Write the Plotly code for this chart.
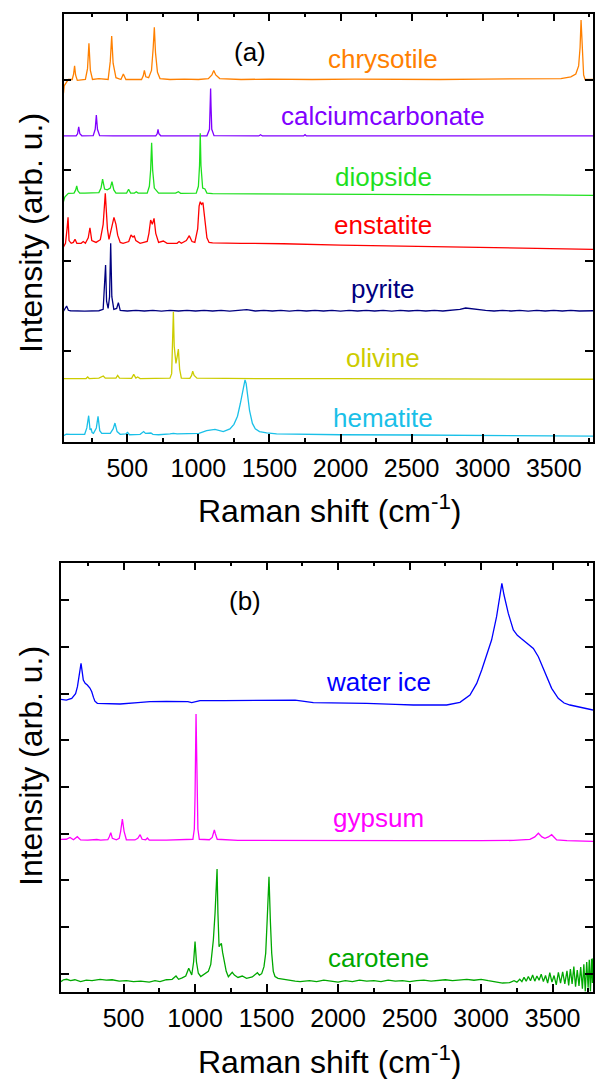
import plotly.graph_objects as go

FONT = "Liberation Sans, Arial, sans-serif"

# ---------------- panel (a) ----------------
chrysotile_x = [51, 56, 85, 112, 122, 129, 136, 148, 205, 220, 230, 240, 255, 300, 365, 380, 390, 400, 420,
                455, 472, 490, 600, 612, 620, 630, 650, 670, 682, 690, 698, 712, 730, 800, 900, 1000,
                1070, 1095, 1108, 1122, 1150, 1300, 1500, 1800, 2100, 2400, 2700, 3000, 3300, 3550,
                3620, 3655, 3675, 3685, 3692, 3700, 3710, 3720, 3776]
chrysotile_y = [3.85, 3.93, 4.0, 4.0, 4.06, 4.15, 4.05, 3.99, 4.0, 4.12, 4.40, 4.10, 4.0, 4.01, 4.0, 4.20, 4.48, 4.18, 4.02,
                4.0, 4.06, 4.0, 4.0, 4.04, 4.10, 4.03, 4.02, 4.10, 4.35, 4.577, 4.30, 4.08, 4.01, 4.0, 4.005, 4.0,
                4.01, 4.05, 4.10, 4.05, 4.01, 4.0, 4.005, 4.0, 4.005, 4.0, 4.0, 4.005, 4.005, 4.01,
                4.03, 4.06, 4.15, 4.35, 4.657, 4.35, 4.05, 4.0, 4.0]

calcite_x = [51, 140, 150, 158, 166, 180, 260, 274, 282, 290, 305, 400, 600, 700, 710, 716, 722, 735, 900,
             1060, 1078, 1083, 1086, 1089, 1094, 1110, 1300, 1425, 1437, 1450, 1740, 1750, 1760,
             2000, 2500, 3000, 3500, 3776]
calcite_y = [3.376, 3.378, 3.40, 3.478, 3.40, 3.378, 3.38, 3.45, 3.608, 3.45, 3.38, 3.376, 3.376, 3.378, 3.40, 3.45, 3.40, 3.378, 3.376,
             3.378, 3.45, 3.70, 3.90, 3.70, 3.45, 3.38, 3.376, 3.376, 3.39, 3.376, 3.376, 3.39, 3.376,
             3.376, 3.376, 3.376, 3.376, 3.376]

diopside_x = [51, 60, 85, 125, 137, 144, 152, 165, 200, 250, 300, 315, 326, 340, 359, 380, 392, 405, 420,
              495, 509, 523, 550, 563, 576, 640, 655, 664, 671, 678, 690, 720, 840, 859, 875,
              985, 1000, 1008, 1013, 1018, 1030, 1046, 1060, 1100, 1400, 1800, 2200, 2600, 3000, 3400, 3776]
diopside_y = [2.65, 2.70, 2.742, 2.745, 2.78, 2.823, 2.77, 2.745, 2.745, 2.75, 2.75, 2.80, 2.90, 2.79, 2.78, 2.80, 2.871, 2.78, 2.745,
              2.745, 2.787, 2.745, 2.745, 2.76, 2.745, 2.745, 2.82, 3.00, 3.302, 3.00, 2.80, 2.745, 2.745, 2.76, 2.742,
              2.745, 2.82, 3.05, 3.405, 3.05, 2.80, 2.79, 2.745, 2.738, 2.735, 2.735, 2.73, 2.73, 2.725, 2.725, 2.72]

enstatite_x = [51, 65, 76, 83, 90, 105, 120, 132, 145, 175, 190, 205, 225, 237, 250, 280, 310, 330, 345, 360,
               371, 390, 406, 420, 432, 450, 470, 510, 526, 538, 549, 560, 590, 640, 652, 664, 676, 688,
               700, 720, 753, 780, 850, 864, 880, 915, 936, 955, 975, 995, 1005, 1013, 1022, 1032, 1045,
               1060, 1075, 1100, 1300, 1600, 2000, 2400, 2800, 3200, 3776]
enstatite_y = [2.15, 2.19, 2.35, 2.477, 2.22, 2.19, 2.20, 2.234, 2.19, 2.19, 2.21, 2.19, 2.25, 2.362, 2.22, 2.20, 2.23, 2.40, 2.742, 2.35,
               2.234, 2.35, 2.477, 2.40, 2.28, 2.20, 2.19, 2.21, 2.282, 2.26, 2.27, 2.22, 2.19, 2.21, 2.30, 2.448, 2.40, 2.466,
               2.30, 2.20, 2.215, 2.19, 2.19, 2.21, 2.19, 2.22, 2.274, 2.21, 2.20, 2.35, 2.60, 2.65, 2.62, 2.64, 2.45,
               2.25, 2.20, 2.195, 2.19, 2.185, 2.17, 2.16, 2.15, 2.14, 2.124]

pyrite_x = [51, 60, 73, 85, 100, 200, 300, 330, 340, 347, 354, 365, 375, 383, 391, 405, 425, 437, 450,
            500, 560, 620, 680, 740, 800, 860, 920, 980, 1040, 1100, 1160, 1220, 1280, 1340, 1400, 1460,
            1520, 1580, 1640, 1700, 1760, 1820, 1880, 1940, 2000, 2060, 2120, 2180, 2240, 2300, 2360, 2420,
            2480, 2540, 2600, 2660, 2720, 2780, 2840, 2880, 2920, 2960, 3020, 3080, 3140, 3200, 3260, 3320,
            3380, 3440, 3500, 3560, 3620, 3680, 3740, 3776]
pyrite_y = [1.44, 1.46, 1.497, 1.45, 1.445, 1.44, 1.445, 1.46, 1.70, 1.95, 1.55, 1.47, 1.60, 2.19, 1.60, 1.46, 1.47, 1.534, 1.45,
            1.442, 1.45, 1.442, 1.448, 1.44, 1.448, 1.442, 1.45, 1.442, 1.448, 1.442, 1.448, 1.44, 1.448, 1.458, 1.442, 1.45,
            1.442, 1.448, 1.44, 1.448, 1.442, 1.45, 1.442, 1.448, 1.44, 1.448, 1.442, 1.45, 1.442, 1.448, 1.44, 1.448,
            1.442, 1.45, 1.442, 1.448, 1.442, 1.448, 1.46, 1.475, 1.465, 1.455, 1.448, 1.442, 1.45, 1.442, 1.448, 1.44,
            1.448, 1.442, 1.45, 1.442, 1.448, 1.442, 1.448, 1.445]

olivine_x = [51, 150, 210, 221, 232, 300, 320, 331, 345, 420, 432, 445, 530, 545, 560, 573, 590, 780, 800,
             812, 818, 824, 830, 836, 842, 852, 859, 868, 880, 940, 952, 960, 970, 990, 1200, 1600, 2000,
             2500, 3000, 3500, 3776]
olivine_y = [0.694, 0.694, 0.696, 0.713, 0.696, 0.70, 0.71, 0.724, 0.70, 0.70, 0.731, 0.70, 0.698, 0.742, 0.70, 0.713, 0.696, 0.696, 0.70,
             0.75, 1.0, 1.434, 1.05, 0.90, 0.864, 0.95, 1.022, 0.80, 0.70, 0.698, 0.73, 0.776, 0.73, 0.70, 0.696, 0.694, 0.694,
             0.692, 0.69, 0.69, 0.688]

hematite_x = [51, 70, 100, 150, 200, 215, 228, 238, 245, 252, 262, 282, 294, 306, 320, 380, 400, 413, 428, 450,
              490, 502, 515, 590, 605, 615, 628, 655, 666, 680, 720, 800, 824, 850, 950, 1004, 1058, 1117, 1175,
              1222, 1250, 1275, 1295, 1310, 1320, 1328, 1336, 1346, 1360, 1380, 1400, 1430, 1480, 1550, 1715,
              2000, 2500, 3000, 3500, 3776]
hematite_y = [0.064, 0.08, 0.078, 0.075, 0.08, 0.15, 0.285, 0.127, 0.146, 0.10, 0.09, 0.15, 0.278, 0.12, 0.09, 0.09, 0.14, 0.204, 0.11, 0.08,
              0.085, 0.10, 0.075, 0.08, 0.10, 0.11, 0.09, 0.09, 0.094, 0.08, 0.075, 0.085, 0.09, 0.085, 0.083, 0.09, 0.12, 0.135, 0.11,
              0.14, 0.19, 0.28, 0.42, 0.56, 0.65, 0.68, 0.64, 0.52, 0.34, 0.20, 0.14, 0.11, 0.095, 0.085, 0.08,
              0.075, 0.072, 0.07, 0.065, 0.06]

# ---------------- panel (b) ----------------
ice_x = [63, 100, 138, 165, 178, 192, 203, 212, 219, 232, 247, 265, 278, 290, 300, 317,
         400, 476, 600, 685, 800, 950, 977, 1000, 1035,
         1200, 1400, 1617, 1700, 1827, 2000, 2200, 2400, 2526, 2759,
         2852, 2922, 2969, 3004, 3038, 3073, 3108, 3131, 3145, 3160, 3190, 3225, 3240, 3253, 3280, 3306,
         3330, 3365, 3400, 3446, 3493, 3539, 3580, 3621, 3714, 3782]
ice_y = [5.879, 5.86, 5.90, 6.0, 6.149, 6.45, 6.65, 6.45, 6.29, 6.22, 6.185, 6.12, 6.04, 5.92, 5.84, 5.793,
         5.785, 5.778, 5.81, 5.828, 5.835, 5.83, 5.81, 5.83, 5.85,
         5.85, 5.855, 5.864, 5.86, 5.806, 5.80, 5.793, 5.77, 5.757, 5.757,
         5.814, 5.971, 6.22, 6.507, 6.828, 7.149, 7.649, 8.114, 8.364, 8.114, 7.72, 7.364, 7.30, 7.25, 7.18, 7.11,
         7.06, 6.97, 6.79, 6.436, 6.114, 5.9, 5.80, 5.757, 5.686, 5.65]

gypsum_x = [63, 100, 126, 150, 177, 200, 250, 313, 340, 390, 400, 411, 422, 450, 470, 480, 492, 504, 520,
            580, 600, 616, 630, 655, 667, 680, 800, 960, 985, 995, 1000, 1007, 1014, 1020, 1030,
            1100, 1120, 1128, 1135, 1142, 1155, 1300, 1600, 2000, 2500, 3000, 3225,
            3341, 3375, 3400, 3425, 3446, 3470, 3493, 3515, 3528, 3600, 3782]
gypsum_y = [2.879, 2.88, 2.92, 2.87, 2.935, 2.865, 2.86, 2.875, 2.86, 2.87, 2.93, 3.021, 2.90, 2.87, 2.90, 3.05, 3.314, 3.05, 2.87,
            2.865, 2.90, 2.978, 2.88, 2.87, 2.907, 2.86, 2.86, 2.865, 2.88, 3.10, 3.8, 5.564, 3.8, 3.10, 2.88,
            2.87, 2.92, 3.0, 3.079, 3.0, 2.88, 2.855, 2.85, 2.85, 2.85, 2.85, 2.855,
            2.879, 2.93, 3.008, 2.93, 2.90, 2.93, 2.978, 2.90, 2.865, 2.85, 2.836]

carotene_x = [63, 80, 103, 130, 160, 200, 240, 280, 336, 380, 420, 470, 520, 570, 620, 680, 720, 755, 800, 840,
              867, 885, 910, 935, 956, 968, 977, 990, 1000, 1010, 1023, 1040, 1060, 1093, 1110, 1128, 1140,
              1154, 1160, 1168, 1176, 1184, 1193, 1203, 1218, 1233, 1248, 1260, 1275, 1300, 1330, 1360, 1400,
              1425, 1436, 1450, 1466, 1482, 1494, 1505, 1517, 1527, 1536, 1547, 1559, 1580, 1617, 1660, 1700,
              1734, 1800, 1850, 1900, 1950, 2000, 2050, 2100, 2150, 2200, 2250, 2300, 2350, 2400, 2450, 2500,
              2550, 2600, 2650, 2700, 2750, 2800, 2850, 2900, 2950, 3000, 3050, 3100, 3150, 3200, 3230, 3250,
              3270, 3285, 3300, 3315, 3330, 3345, 3360, 3375, 3390, 3405, 3420, 3435, 3450, 3465, 3480, 3495,
              3510, 3525, 3540, 3555, 3570, 3585, 3600, 3612, 3624, 3636, 3648, 3660, 3672, 3684, 3696, 3708,
              3718, 3728, 3738, 3748, 3756, 3764, 3772, 3778, 3782]
carotene_y = [-0.17, -0.13, -0.12, -0.15, -0.13, -0.17, -0.14, -0.15, -0.12, -0.14, -0.13, -0.16, -0.15, -0.17, -0.16, -0.18, -0.15, -0.17, -0.13, -0.12,
              -0.05, -0.12, -0.09, -0.05, 0.116, 0.05, -0.028, 0.25, 0.686, 0.25, 0.009, -0.06, -0.02, 0.05, 0.2, 0.722, 1.3,
              2.243, 1.3, 0.579, 0.62, 0.65, 0.45, 0.294, 0.05, -0.064, -0.02, 0.029, -0.03, -0.08, -0.05, -0.1, -0.07,
              -0.02, 0.02, -0.03, 0.0, 0.15, 0.437, 1.2, 2.078, 1.1, 0.437, 0.05, -0.06, -0.1, -0.12, -0.15, -0.16,
              -0.171, -0.15, -0.17, -0.14, -0.16, -0.18, -0.15, -0.17, -0.14, -0.16, -0.15, -0.17, -0.14, -0.16, -0.15, -0.17,
              -0.15, -0.14, -0.16, -0.14, -0.13, -0.15, -0.13, -0.12, -0.14, -0.12, -0.15, -0.17, -0.2, -0.19, -0.15, -0.18,
              -0.12, -0.17, -0.08, -0.16, -0.06, -0.15, -0.03, -0.16, -0.05, -0.14, -0.01, -0.17, -0.04, -0.2, 0.02, -0.18,
              -0.04, -0.24, 0.03, -0.2, 0.04, -0.22, 0.06, -0.25, 0.1, -0.22, 0.15, -0.28, 0.08, -0.26, 0.14, -0.32,
              0.2, -0.38, 0.25, -0.3, 0.3, -0.38, 0.32, -0.2, 0.33]

top_series = [
    ("chrysotile", chrysotile_x, chrysotile_y, "#FF8000", 4.227),
    ("calciumcarbonate", calcite_x, calcite_y, "#8000FF", 3.597),
    ("diopside", diopside_x, diopside_y, "#1EE01E", 2.923),
    ("enstatite", enstatite_x, enstatite_y, "#FF0000", 2.392),
    ("pyrite", pyrite_x, pyrite_y, "#000080", 1.685),
    ("olivine", olivine_x, olivine_y, "#CCCC00", 0.923),
    ("hematite", hematite_x, hematite_y, "#1AC0E8", 0.26),
]
bottom_series = [
    ("water ice", ice_x, ice_y, "#0000FF", 6.25),
    ("gypsum", gypsum_x, gypsum_y, "#FF00FF", 3.336),
    ("carotene", carotene_x, carotene_y, "#00A800", 0.336),
]

W, H = 595, 1079
fig = go.Figure()
ann = []
for name, xs, ys, col, ly in top_series:
    fig.add_trace(go.Scatter(x=xs, y=ys, mode="lines", line=dict(color=col, width=1.3),
                             xaxis="x", yaxis="y", showlegend=False, name=name))
    ann.append(dict(x=2300, y=ly, xref="x", yref="y", text=name, showarrow=False,
                    font=dict(family=FONT, size=26, color=col), xanchor="center", yanchor="middle"))
for name, xs, ys, col, ly in bottom_series:
    fig.add_trace(go.Scatter(x=xs, y=ys, mode="lines", line=dict(color=col, width=1.3),
                             xaxis="x2", yaxis="y2", showlegend=False, name=name))
    ann.append(dict(x=2280, y=ly, xref="x2", yref="y2", text=name, showarrow=False,
                    font=dict(family=FONT, size=26, color=col), xanchor="center", yanchor="middle"))

ann.append(dict(x=1363, y=4.304, xref="x", yref="y", text="(a)", showarrow=False,
                font=dict(family=FONT, size=26, color="black"), xanchor="center", yanchor="middle"))
ann.append(dict(x=1349, y=7.985, xref="x2", yref="y2", text="(b)", showarrow=False,
                font=dict(family=FONT, size=26, color="black"), xanchor="center", yanchor="middle"))

title_font = dict(family=FONT, size=32, color="black")
xt = "Raman shift (cm<sup>-1</sup>)"
yt = "Intensity (arb. u.)"
ann.append(dict(x=330 / W, y=1 - 509 / H, xref="paper", yref="paper", text=xt, showarrow=False,
                font=title_font, xanchor="center", yanchor="middle"))
ann.append(dict(x=330 / W, y=1 - 1060 / H, xref="paper", yref="paper", text=xt, showarrow=False,
                font=title_font, xanchor="center", yanchor="middle"))
ann.append(dict(x=31 / W, y=1 - 233 / H, xref="paper", yref="paper", text=yt, showarrow=False,
                font=title_font, textangle=-90, xanchor="center", yanchor="middle"))
ann.append(dict(x=31 / W, y=1 - 766 / H, xref="paper", yref="paper", text=yt, showarrow=False,
                font=title_font, textangle=-90, xanchor="center", yanchor="middle"))


def xax(dom, rng, anchor):
    return dict(domain=dom, range=rng, anchor=anchor, showline=True, linecolor="black", linewidth=1.5,
                mirror="ticks", ticks="inside", ticklen=8, tickwidth=1.5, tickcolor="black",
                tick0=0, dtick=500, showgrid=False, zeroline=False,
                minor=dict(dtick=250, ticks="inside", ticklen=4, tickwidth=1.5, tickcolor="black", showgrid=False),
                tickfont=dict(family=FONT, size=25, color="black"), ticklabelstandoff=4)


def yax(dom, rng, anchor):
    return dict(domain=dom, range=rng, anchor=anchor, showline=True, linecolor="black", linewidth=1.5,
                mirror="ticks", ticks="inside", ticklen=8, tickwidth=1.5, tickcolor="black",
                tick0=0, dtick=1, showgrid=False, zeroline=False, showticklabels=False)


fig.update_layout(
    width=W, height=H, margin=dict(l=0, r=0, t=0, b=0),
    paper_bgcolor="white", plot_bgcolor="white",
    xaxis=xax([63.5 / W, 593 / W], [51, 3776], "y"),
    yaxis=yax([1 - 441.7 / H, 1 - 13.7 / H], [-0.002, 4.727], "x"),
    xaxis2=xax([61 / W, 593 / W], [63, 3782], "y2"),
    yaxis2=yax([1 - 991.7 / H, 1 - 562.7 / H], [-0.386, 8.806], "x2"),
    annotations=ann,
)

fig.write_html("out.html", config={"displayModeBar": False},
               post_script="document.body.style.margin='0';document.body.style.overflow='hidden';")
